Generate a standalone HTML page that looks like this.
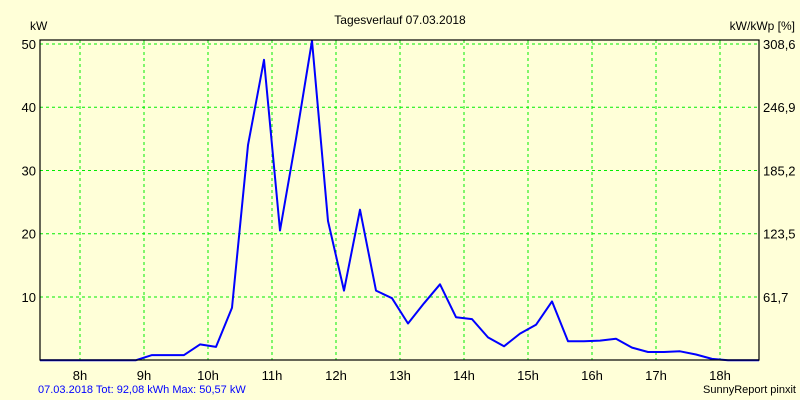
<!DOCTYPE html>
<html><head><meta charset="utf-8"><style>
body{margin:0;background:#ffffd8;}
svg{display:block;font-family:"Liberation Sans",sans-serif;}
</style></head><body>
<svg width="800" height="400" viewBox="0 0 800 400">
<rect x="0" y="0" width="800" height="400" fill="#ffffd8"/>
<text x="400" y="24" font-size="12" text-anchor="middle">Tagesverlauf 07.03.2018</text>
<text x="30" y="30" font-size="12">kW</text>
<text x="795" y="30" font-size="12" text-anchor="end">kW/kWp [%]</text>
<g id="grid"></g>
<g id="ticks"></g>
<polyline id="line" fill="none" stroke="#0000ff" stroke-width="2" stroke-linejoin="round"/>
<rect x="40" y="40" width="719" height="320" fill="none" stroke="#000" stroke-width="1.2"/>
<text x="38" y="393" font-size="11" fill="#0000ff">07.03.2018 Tot: 92,08 kWh Max: 50,57 kW</text>
<text x="796" y="393" font-size="11" text-anchor="end">SunnyReport pinxit</text>
</svg>
<script>
const hourTicks=[8,9,10,11,12,13,14,15,16,17,18];
const kwTicks=[10,20,30,40,50];
const pctLabels=["61,7","123,5","185,2","246,9","308,6"];
const startHour=7.375;
const stepHour=0.25;
const values=[0,0,0,0,0,0,0,0.8,0.8,0.8,2.5,2.1,8.3,34,47.5,20.5,35,50.5,22,11,23.8,11,9.8,5.8,9,12,6.8,6.5,3.6,2.2,4.2,5.6,9.3,3,3,3.1,3.4,2,1.3,1.3,1.4,0.9,0.2,0,0,0];
const NS="http://www.w3.org/2000/svg";
const xS=h=>80+(h-8)*64;
const yS=v=>360.2-v*6.325;
const grid=document.getElementById('grid'),ticks=document.getElementById('ticks');
hourTicks.forEach(h=>{
  const l=document.createElementNS(NS,'line');
  l.setAttribute('x1',xS(h));l.setAttribute('x2',xS(h));l.setAttribute('y1',40);l.setAttribute('y2',360);
  l.setAttribute('stroke','#00ee00');l.setAttribute('stroke-dasharray','3,3');
  
  
  grid.appendChild(l);
  const t=document.createElementNS(NS,'text');
  t.setAttribute('x',xS(h));t.setAttribute('y',380);t.setAttribute('font-size','13');t.setAttribute('text-anchor','middle');
  t.textContent=h+'h';
  
  
  ticks.appendChild(t);
});
kwTicks.forEach((v,i)=>{
  const l=document.createElementNS(NS,'line');
  l.setAttribute('x1',40);l.setAttribute('x2',759);l.setAttribute('y1',yS(v));l.setAttribute('y2',yS(v));
  l.setAttribute('stroke','#00ee00');l.setAttribute('stroke-dasharray','3,3');
  
  
  grid.appendChild(l);
  const t=document.createElementNS(NS,'text');
  t.setAttribute('x',36);t.setAttribute('y',yS(v)+5);t.setAttribute('font-size','13');t.setAttribute('text-anchor','end');
  t.textContent=v;
  
  
  ticks.appendChild(t);
  const t2=document.createElementNS(NS,'text');
  t2.setAttribute('x',763);t2.setAttribute('y',yS(v)+5);t2.setAttribute('font-size','13');
  t2.textContent=pctLabels[i];
  
  
  ticks.appendChild(t2);
});
const pts=values.map((v,i)=>Math.min(xS(startHour+i*stepHour),759).toFixed(1)+','+yS(v).toFixed(1));
document.getElementById('line').setAttribute('points',pts.join(' '));
</script>
</body></html>
